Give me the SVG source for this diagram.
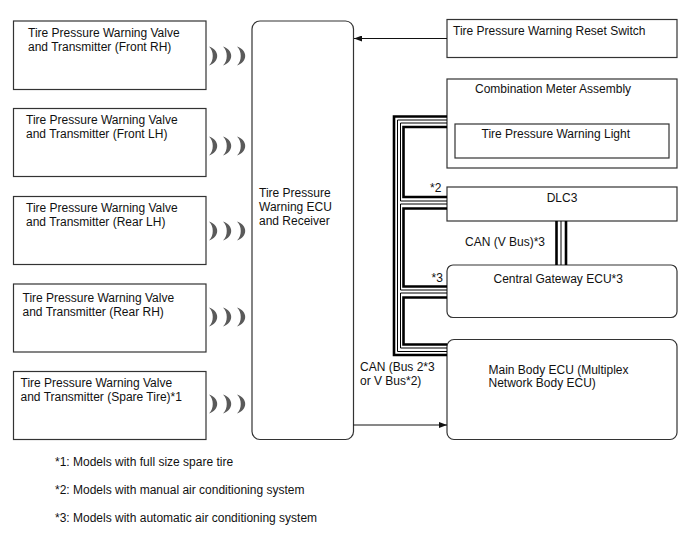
<svg xmlns="http://www.w3.org/2000/svg" width="688" height="560" viewBox="0 0 688 560">
<style>
text{font-family:"Liberation Sans",Arial,sans-serif;font-size:12px;fill:#111}
.box{fill:#fff;stroke:#333;stroke-width:1.2}
.thk{fill:none;stroke:#000;stroke-width:2.6}
.thn{fill:none;stroke:#000;stroke-width:1}
.ln{fill:none;stroke:#111;stroke-width:1}
.wave{fill:#5a5a5a}
</style>
<defs>
<marker id="arr" viewBox="0 0 8 6" refX="8" refY="3" markerWidth="8" markerHeight="6" markerUnits="userSpaceOnUse" orient="auto">
<path d="M0,0 L8,3 L0,6 Z" fill="#111"/>
</marker>
<path id="cres" d="M0,-9.5 C11,-6 11,6 0,9.5 C5,5 5,-5 0,-9.5 Z"/>
</defs>

<g id="front-rh">
<rect class="box" x="13.5" y="21" width="192.5" height="68.5"/>
<text x="28" y="36.5">Tire Pressure Warning Valve</text>
<text x="28" y="50.5">and Transmitter (Front RH)</text>
</g>
<g id="front-lh">
<rect class="box" x="13.5" y="108.5" width="192.5" height="68"/>
<text x="26" y="124">Tire Pressure Warning Valve</text>
<text x="26" y="138">and Transmitter (Front LH)</text>
</g>
<g id="rear-lh">
<rect class="box" x="13.5" y="196.5" width="192.5" height="68"/>
<text x="26" y="212">Tire Pressure Warning Valve</text>
<text x="26" y="226">and Transmitter (Rear LH)</text>
</g>
<g id="rear-rh">
<rect class="box" x="13.5" y="284" width="192.5" height="68"/>
<text x="22.5" y="301.5">Tire Pressure Warning Valve</text>
<text x="22.5" y="315.5">and Transmitter (Rear RH)</text>
</g>
<g id="spare">
<rect class="box" x="13.5" y="371.5" width="192.5" height="68"/>
<text x="20.5" y="386.5">Tire Pressure Warning Valve</text>
<text x="20.5" y="400.5">and Transmitter (Spare Tire)*1</text>
</g>

<g id="waves" class="wave">
<use href="#cres" x="209" y="56"/><use href="#cres" x="223" y="56"/><use href="#cres" x="237" y="56"/>
<use href="#cres" x="209" y="146"/><use href="#cres" x="223" y="146"/><use href="#cres" x="237" y="146"/>
<use href="#cres" x="209" y="231"/><use href="#cres" x="223" y="231"/><use href="#cres" x="237" y="231"/>
<use href="#cres" x="209" y="317"/><use href="#cres" x="223" y="317"/><use href="#cres" x="237" y="317"/>
<use href="#cres" x="209" y="404"/><use href="#cres" x="223" y="404"/><use href="#cres" x="237" y="404"/>
</g>

<g id="ecu">
<rect class="box" x="252" y="21" width="101.5" height="418.5" rx="8"/>
<text x="259" y="196.5">Tire Pressure</text>
<text x="259" y="210.5">Warning ECU</text>
<text x="259" y="224.5">and Receiver</text>
</g>

<g id="reset-switch">
<rect class="box" x="447" y="19.5" width="230" height="38"/>
<text x="453" y="34.5">Tire Pressure Warning Reset Switch</text>
</g>

<g id="combination-meter">
<rect class="box" x="447" y="79" width="230" height="89"/>
<text x="475" y="93">Combination Meter Assembly</text>
<g id="warning-light">
<rect class="box" x="455" y="124" width="214" height="34"/>
<text x="481.5" y="137.5">Tire Pressure Warning Light</text>
</g>
</g>

<g id="dlc3">
<rect class="box" x="447" y="187" width="230" height="34"/>
<text x="562" y="201.5" text-anchor="middle">DLC3</text>
</g>

<g id="gateway">
<rect class="box" x="447" y="265" width="230" height="52.5" rx="6"/>
<text x="493.5" y="282.5">Central Gateway ECU*3</text>
</g>

<g id="main-body">
<rect class="box" x="447" y="339.5" width="230" height="100" rx="7"/>
<text x="488.5" y="374">Main Body ECU (Multiplex</text>
<text x="488.5" y="387">Network Body ECU)</text>
</g>

<g id="connectors">
<path class="ln" d="M447,38.5 H354" marker-end="url(#arr)"/>
<path class="ln" d="M353.5,425 H447" marker-end="url(#arr)"/>
<path class="thk" d="M447,116.5 H394 V355 H447"/>
<path class="thn" d="M447,120 H397.5 V351.5 H447"/>
<path class="thn" d="M447,123 H400.5 V201 H447"/>
<path class="thk" d="M447,127 H403.5 V197 H447"/>
<path class="thn" d="M447,204 H400.5 V290 H447"/>
<path class="thk" d="M447,208.5 H403.5 V286.5 H447"/>
<path class="thn" d="M447,293 H400.5 V348 H447"/>
<path class="thk" d="M447,297.5 H403.5 V344.5 H447"/>
<path class="thk" d="M556.5,221 V265"/>
<path class="thn" d="M561,221 V265"/>
<path class="thk" d="M566,221 V265"/>
</g>

<g id="labels">
<text x="430" y="191.5">*2</text>
<text x="431.5" y="281.5">*3</text>
<text x="465" y="246">CAN (V Bus)*3</text>
<text x="360" y="371">CAN (Bus 2*3</text>
<text x="360" y="385">or V Bus*2)</text>
<text x="55" y="466">*1: Models with full size spare tire</text>
<text x="55" y="493.5">*2: Models with manual air conditioning system</text>
<text x="55" y="521.5">*3: Models with automatic air conditioning system</text>
</g>
</svg>
